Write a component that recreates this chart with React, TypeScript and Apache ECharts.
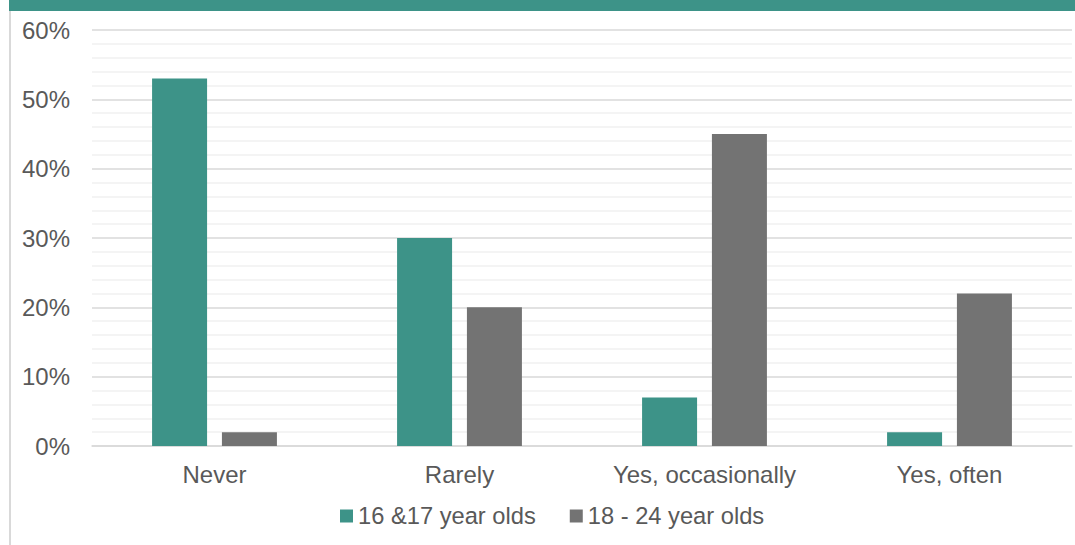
import React, { useEffect, useRef } from "react";
import * as echarts from "echarts";

const categories = ["Never", "Rarely", "Yes, occasionally", "Yes, often"];
const series1Name = "16 &17 year olds";
const series2Name = "18 - 24 year olds";
const series1Values = [53, 30, 7, 2];
const series2Values = [2, 20, 45, 22];
const yTicks = [0, 10, 20, 30, 40, 50, 60];

const TEAL = "#3d9388";
const GREY = "#737373";
const TEXT = "#595959";
const FONT = "'Liberation Sans', Arial, sans-serif";

export default function App() {
  const ref = useRef<HTMLDivElement>(null);
  useEffect(() => {
    document.body.style.margin = "0";
    const chart = echarts.init(ref.current!, undefined, { renderer: "svg" });
    chart.setOption({
      animation: false,
      backgroundColor: "#ffffff",
      textStyle: { fontFamily: FONT },
      graphic: [
        { type: "rect", shape: { x: 9, y: 0, width: 1066, height: 11 }, style: { fill: TEAL }, silent: true },
        { type: "rect", shape: { x: 9, y: 11, width: 2, height: 534 }, style: { fill: "#d9d9d9" }, silent: true },
      ],
      grid: { left: 92, right: 3, top: 30, bottom: 99, containLabel: false },
      legend: {
        bottom: 12,
        left: 335,
        itemWidth: 13,
        itemHeight: 13,
        itemGap: 34,
        icon: "rect",
        textStyle: { color: TEXT, fontSize: 23.7, fontFamily: FONT },
        data: [series1Name, series2Name],
      },
      xAxis: {
        type: "category",
        data: categories,
        axisTick: { show: false },
        axisLine: { lineStyle: { color: "#d9d9d9", width: 1.5 } },
        axisLabel: { color: TEXT, fontSize: 24, fontFamily: FONT, margin: 16 },
      },
      yAxis: {
        type: "value",
        min: yTicks[0],
        max: yTicks[yTicks.length - 1],
        interval: 10,
        axisLine: { show: false },
        axisTick: { show: false },
        axisLabel: { color: TEXT, fontSize: 24, fontFamily: FONT, margin: 22, formatter: "{value}%" },
        splitLine: { lineStyle: { color: "#d9d9d9", width: 1.5 } },
        minorTick: { show: false, splitNumber: 5 },
        minorSplitLine: { show: true, lineStyle: { color: "#f0f0f0", width: 1.5 } },
      },
      series: [
        {
          name: series1Name,
          type: "bar",
          data: series1Values,
          barWidth: 55,
          barGap: "27%",
          itemStyle: { color: TEAL },
        },
        {
          name: series2Name,
          type: "bar",
          data: series2Values,
          barWidth: 55,
          itemStyle: { color: GREY },
        },
      ],
    });
    return () => chart.dispose();
  }, []);
  return <div ref={ref} style={{ width: 1075, height: 545 }} />;
}
